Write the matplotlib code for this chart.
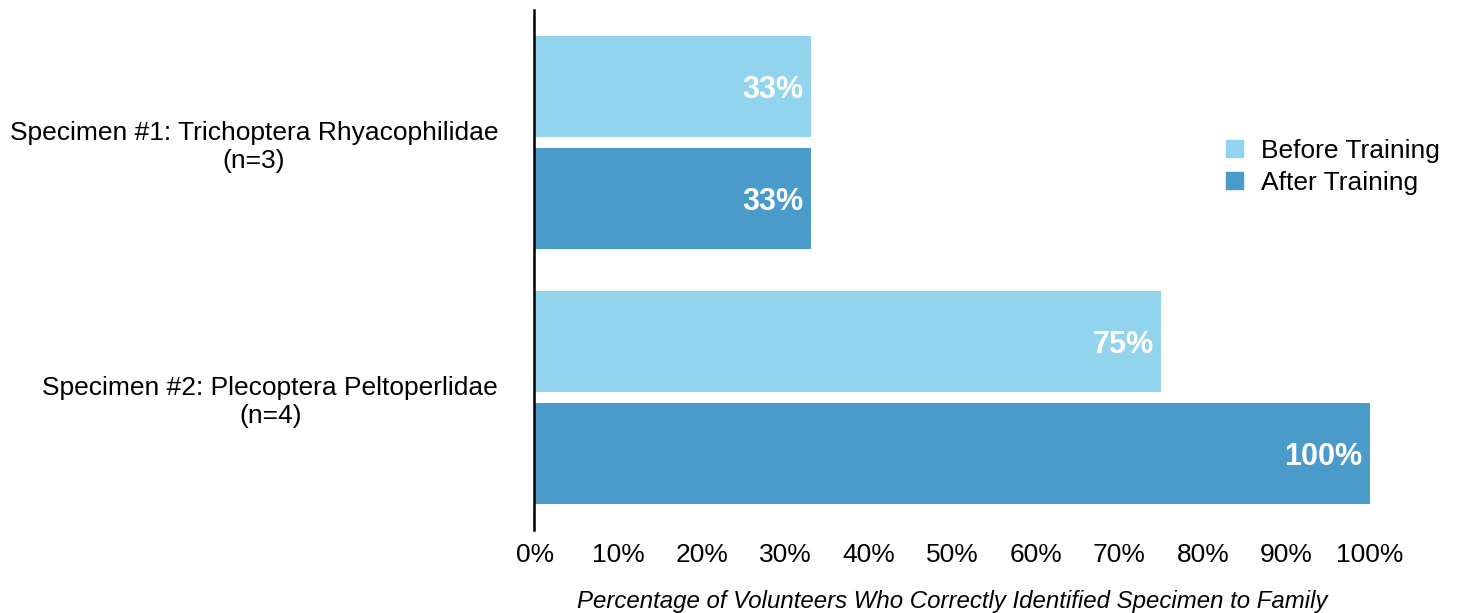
import matplotlib
matplotlib.use('Agg')
import matplotlib.pyplot as plt
from matplotlib.patches import Patch
import numpy as np

plt.rcParams['font.family'] = ['Liberation Sans', 'DejaVu Sans']

specimens = ['Specimen #1: Trichoptera Rhyacophilidae\n(n=3)',
             'Specimen #2: Plecoptera Peltoperlidae\n(n=4)']
before = [33, 75]
after = [33, 100]
series_names = ['Before Training', 'After Training']
colors = ['#92d4ee', '#4a9bca']
x_ticks = list(range(0, 101, 10))

fig = plt.figure(figsize=(14.62, 6.13), dpi=100)
ax = fig.add_axes([0.366, 0.135, 0.571, 0.849])

pos = np.arange(len(specimens))
h = 0.397
off = 0.22
for vals, shift, c in [(before, -off, colors[0]), (after, off, colors[1])]:
    ax.barh(pos + shift, vals, height=h, color=c, left=0)
    for y, v in zip(pos + shift, vals):
        ax.text(v - 0.9, y, f'{v}%', ha='right', va='center_baseline',
                color='white', fontsize=22, fontweight='bold')

ax.set_ylim(1.52, -0.52)
ax.set_xlim(0, 100)
ax.set_yticks(pos)
ax.set_yticklabels(specimens)
ax.set_xticks(x_ticks)
ax.set_xticklabels([f'{t}%' for t in x_ticks])
ax.tick_params(axis='both', length=0)
ax.tick_params(axis='y', pad=26, labelsize=19)
ax.tick_params(axis='x', pad=9, labelsize=19)
for s in ['top', 'right', 'bottom']:
    ax.spines[s].set_visible(False)
ax.spines['left'].set_linewidth(1.8)
ax.spines['left'].set_position(('data', -0.1))
ax.set_xlabel('Percentage of Volunteers Who Correctly Identified Specimen to Family',
              fontsize=17.3, style='italic', labelpad=17)

handles = [Patch(color=c, label=n) for c, n in zip(colors, series_names)]
fig.legend(handles=handles, loc='center left', bbox_to_anchor=(0.822, 0.728),
           frameon=False, fontsize=19, handlelength=0.65, handleheight=0.65,
           handletextpad=0.7, labelspacing=0.3)

# centre the "(n=...)" line under the specimen name
fig.canvas.draw()
for lab in ax.get_yticklabels():
    lab.set_multialignment('center')

fig.savefig('out.png', dpi=100)
